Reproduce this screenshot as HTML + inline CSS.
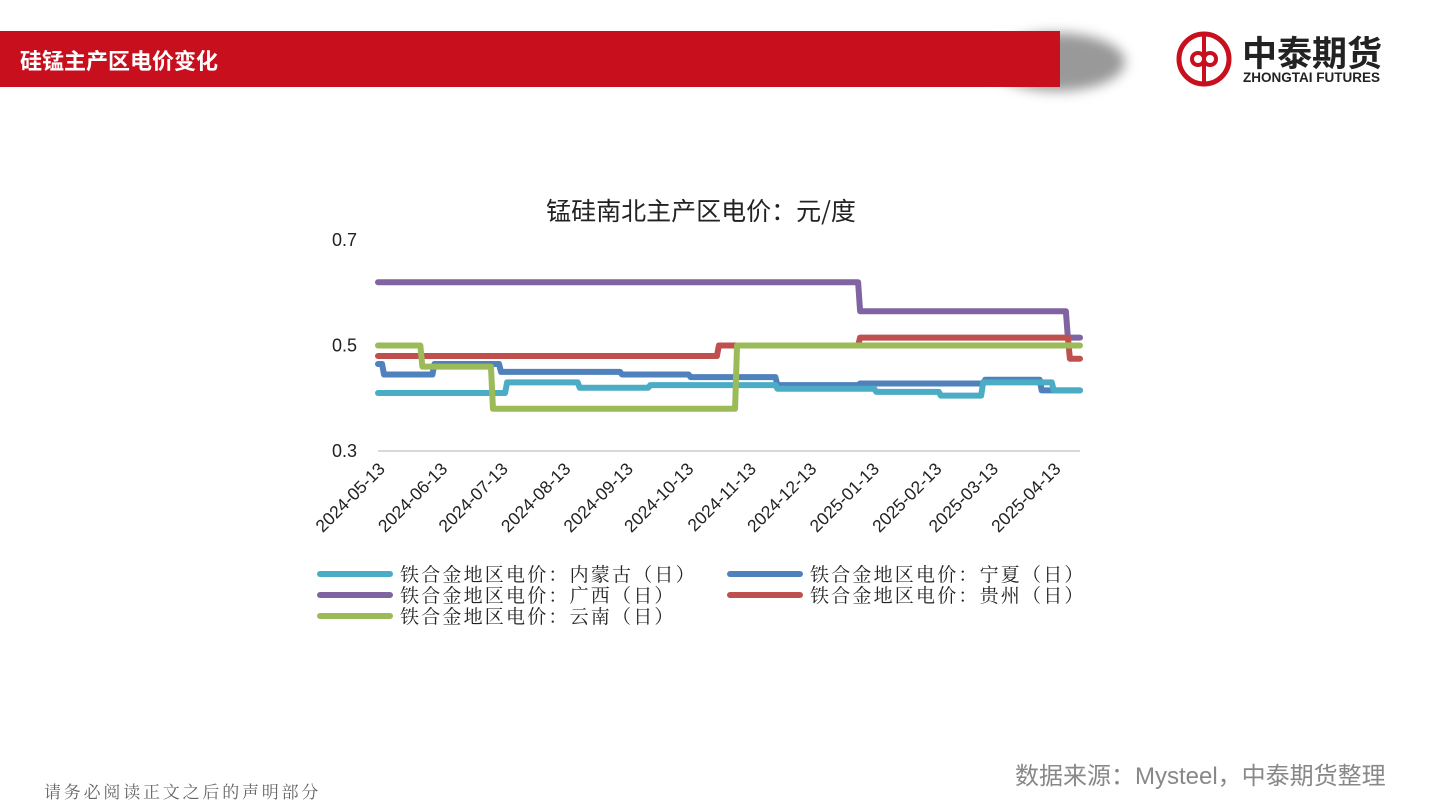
<!DOCTYPE html>
<html><head><meta charset="utf-8"><style>
html,body{margin:0;padding:0;width:1440px;height:810px;background:#fff;overflow:hidden;font-family:"Liberation Sans","Noto Sans CJK SC",sans-serif;}
.abs{position:absolute}
</style></head><body>
<div class="abs" style="left:990px;top:33px;width:135px;height:58px;border-radius:50%;background:#999;filter:blur(6px);"></div>
<div class="abs" style="left:0;top:31px;width:1060px;height:56px;background:#c80f1e;"></div>
<div class="abs" style="left:20px;top:44px;color:#fff;font-size:22px;font-weight:bold;">硅锰主产区电价变化</div>
<svg class="abs" style="left:1170px;top:28px" width="270" height="64">
<circle cx="34" cy="31" r="25" fill="none" stroke="#c80f1e" stroke-width="5"/>
<path d="M34 8 V54 M22 31 c0-8 12-8 12 0 s12 8 12 0 c0-8-12-8-12 0 s-12 8-12 0" fill="none" stroke="#c80f1e" stroke-width="4"/>
<text x="72" y="38" font-size="35" font-weight="bold" fill="#222" font-family="Noto Sans CJK SC,sans-serif">中泰期货</text>
<text x="73" y="54" font-size="13.5" font-weight="bold" fill="#222" font-family="Liberation Sans,sans-serif">ZHONGTAI FUTURES</text>
</svg>
<svg class="abs" style="left:0;top:0" width="1440" height="810" id="chart">
<text x="701" y="220" text-anchor="middle" font-size="25" fill="#222" font-family="Noto Sans CJK SC,sans-serif">锰硅南北主产区电价：元/度</text>
<g id="axes"></g><g id="series"></g><g id="legend"></g>
</svg>
<div class="abs" style="left:1015px;top:756px;font-size:24px;color:#888;">数据来源：Mysteel，中泰期货整理</div>
<div class="abs" style="left:44px;top:778px;font-size:17px;color:#666;font-family:'Noto Serif CJK SC',serif;letter-spacing:2.8px;">请务必阅读正文之后的声明部分</div>
<script>
const yTicks=[0.3,0.5,0.7];
const xTickLabels=["2024-05-13","2024-06-13","2024-07-13","2024-08-13","2024-09-13","2024-10-13","2024-11-13","2024-12-13","2025-01-13","2025-02-13","2025-03-13","2025-04-13"];
const startDate="2024-05-13", endDate="2025-04-26";
const seriesNames=["铁合金地区电价：内蒙古（日）","铁合金地区电价：宁夏（日）","铁合金地区电价：广西（日）","铁合金地区电价：贵州（日）","铁合金地区电价：云南（日）"];
const seriesColors=["#4bacc6","#4f81bd","#8064a2","#c0504d","#9bbb59"];
const nmgDates=["2024-05-13","2024-07-15","2024-08-20","2024-09-24","2024-11-26","2025-01-14","2025-02-15","2025-03-08","2025-04-12"];
const nmgVals=[0.41,0.43,0.42,0.425,0.418,0.412,0.405,0.43,0.415];
const nxDates=["2024-05-13","2024-05-15","2024-06-09","2024-07-12","2024-09-10","2024-10-14","2024-11-26","2025-01-06","2025-03-09","2025-04-06"];
const nxVals=[0.465,0.445,0.465,0.45,0.445,0.44,0.425,0.428,0.435,0.415];
const gxDates=["2024-05-13","2025-01-06","2025-04-19"];
const gxVals=[0.62,0.565,0.515];
const gzDates=["2024-05-13","2024-10-28","2025-01-06","2025-04-20"];
const gzVals=[0.48,0.5,0.515,0.475];
const ynDates=["2024-05-13","2024-06-03","2024-07-08","2024-11-06"];
const ynVals=[0.5,0.46,0.38,0.5];
const allDates=[nmgDates,nxDates,gxDates,gzDates,ynDates];
const allVals=[nmgVals,nxVals,gxVals,gzVals,ynVals];
const NS="http://www.w3.org/2000/svg";
const d0=Date.parse(startDate), d1=Date.parse(endDate);
const X0=378,X1=1080,Y0=451,Y1=240;
const xS=d=>X0+(Date.parse(d)-d0)/(d1-d0)*(X1-X0);
const yS=v=>Y0-(v-0.3)/0.4*(Y0-Y1);
function mk(tag,attrs,parent){const e=document.createElementNS(NS,tag);for(const k in attrs)e.setAttribute(k,attrs[k]);parent.appendChild(e);return e;}
const ax=document.getElementById('axes');
const base=mk('line',{x1:X0,x2:X1,y1:yS(0.3),y2:yS(0.3),stroke:'#d9d9d9','stroke-width':2},ax);


yTicks.forEach(v=>{const t=mk('text',{x:357,y:yS(v)+6,'text-anchor':'end','font-size':18,fill:'#222'},ax);t.textContent=v.toFixed(1);

});
xTickLabels.forEach(l=>{const x=xS(l)+8,y=470;const t=mk('text',{x:x,y:y,'text-anchor':'end','font-size':17.5,fill:'#222',transform:`rotate(-45 ${x} ${y})`},ax);t.textContent=l;

});
const sg=document.getElementById('series');
[2,3,1,0,4].forEach(i=>{
 const ds=allDates[i],vs=allVals[i];let p='';
 ds.forEach((d,j)=>{const x=xS(d),y=yS(vs[j]);if(j===0)p+=`M${x} ${y}`;else p+=` L${x} ${y-(yS(vs[j])-yS(vs[j-1]))} L${x+2} ${y}`;});
 p+=` L${X1} ${yS(vs[vs.length-1])}`;
 const e=mk('path',{d:p,fill:'none',stroke:seriesColors[i],'stroke-width':6,'stroke-linejoin':'round','stroke-linecap':'round'},sg);
 
 
});
const lg=document.getElementById('legend');
seriesNames.forEach((n,i)=>{
 const col=i%2,row=Math.floor(i/2);const lx=col?728:318,ly=574+row*21;
 const l=mk('line',{x1:lx+2,x2:lx+72,y1:ly,y2:ly,stroke:seriesColors[i],'stroke-width':6,'stroke-linecap':'round'},lg);
 
 
 const t=mk('text',{x:lx+82,y:ly+7,'font-size':19,'letter-spacing':2.2,fill:'#222','font-family':'Noto Serif CJK SC,serif'},lg);t.textContent=n;
 
 
});
</script>
</body></html>
